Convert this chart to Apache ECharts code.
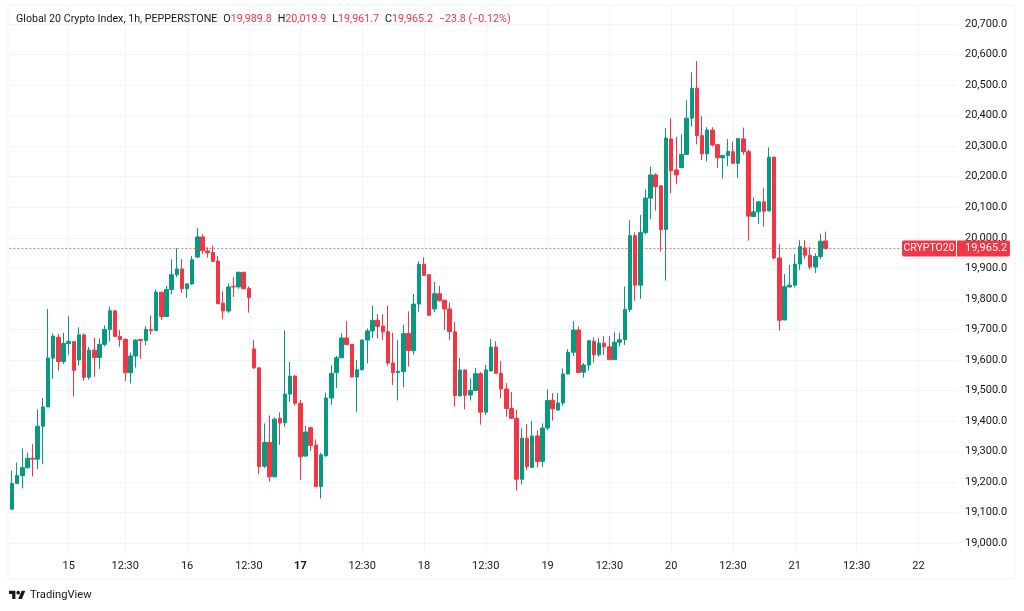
<!DOCTYPE html>
<html>
<head>
<meta charset="utf-8">
<style>html,body{margin:0;padding:0;background:#fff}#chart{width:1024px;height:611px}</style>
<script src="https://cdn.jsdelivr.net/npm/echarts@6/dist/echarts.min.js"></script>
</head>
<body>
<div id="chart"></div>
<script>
const opens = [19111,19195,19221,19247,19278,19275,19383,19446,19606,19674,
19595,19654,19660,19600,19682,19543,19632,19608,19651,19700,
19761,19677,19667,19558,19613,19667,19664,19700,19696,19822,
19742,19831,19879,19898,19833,19849,19937,20003,19957,19952,
19924,19786,19760,19841,19839,19887,19834,19636,19574,19252,
19330,19217,19409,19394,19488,19547,19458,19285,19378,19321,
19185,19286,19475,19558,19607,19672,19651,19544,19568,19665,
19695,19730,19711,19692,19590,19558,19562,19687,19630,19783,
19913,19879,19767,19817,19795,19767,19692,19483,19567,19485,
19500,19555,19429,19564,19642,19556,19505,19441,19409,19209,
19343,19248,19351,19268,19377,19468,19436,19459,19554,19625,
19698,19560,19583,19661,19617,19655,19643,19601,19658,19667,
19765,20007,19845,20017,20130,20206,20170,20027,20324,20222,
20230,20273,20392,20490,20335,20275,20353,20305,20262,20270,
20282,20244,20324,20282,20070,20085,20118,20088,20264,19934,
19731,19839,19845,19914,19967,19943,19904,19939,19989.8];
const closes = [19195,19221,19247,19278,19275,19383,19446,19606,19678,19595,
19654,19661,19566,19682,19543,19632,19608,19651,19700,19761,
19677,19667,19558,19613,19665,19664,19700,19696,19822,19742,
19831,19879,19898,19833,19849,19928,20003,19958,19951,19923,
19784,19760,19839,19839,19887,19833,19804,19574,19250,19330,
19217,19406,19393,19488,19547,19458,19283,19364,19320,19185,
19289,19475,19556,19607,19672,19650,19544,19568,19665,19695,
19730,19710,19692,19590,19558,19563,19686,19631,19783,19913,
19877,19746,19817,19794,19767,19693,19483,19567,19484,19500,
19555,19429,19567,19642,19556,19505,19441,19409,19209,19344,
19250,19351,19267,19377,19467,19440,19459,19554,19625,19698,
19559,19583,19663,19617,19655,19643,19601,19658,19666,19766,
20007,19845,20017,20130,20206,20168,20027,20327,20220,20206,
20273,20392,20490,20335,20275,20353,20304,20262,20270,20283,
20244,20325,20282,20071,20085,20118,20087,20264,19934,19730,
19840,19845,19914,19971,19943,19904,19939,19989,19965.2];
const lows = [19108,19194,19179,19244,19218,19242,19258,19446,19538,19565,
19587,19617,19480,19582,19532,19535,19545,19570,19644,19660,
19676,19643,19531,19523,19575,19604,19648,19683,19695,19731,
19741,19816,19871,19820,19803,19846,19933,19947,19935,19922,
19783,19733,19754,19806,19833,19832,19755,19571,19226,19246,
19201,19216,19322,19381,19463,19450,19207,19283,19302,19184,
19146,19283,19453,19508,19606,19649,19543,19430,19565,19589,
19671,19670,19665,19581,19518,19467,19510,19578,19617,19757,
19875,19745,19756,19791,19698,19665,19447,19479,19438,19467,
19499,19388,19420,19562,19555,19475,19414,19407,19172,19192,
19240,19247,19247,19249,19370,19401,19433,19450,19552,19613,
19558,19542,19565,19591,19611,19616,19600,19600,19643,19649,
19756,19794,19800,20011,20061,20089,19955,19860,20146,20176,
20228,20272,20364,20306,20255,20250,20299,20229,20195,20235,
20242,20196,20272,19991,20069,20045,20036,20087,19929,19696,
19730,19837,19837,19895,19931,19897,19885,19931,19961.7];
const highs = [19237,19264,19310,19296,19325,19438,19475,19767,19687,19685,
19689,19744,19660,19707,19686,19642,19674,19671,19713,19775,
19762,19698,19671,19624,19668,19668,19710,19746,19831,19823,
19842,19930,19966,19930,19849,19940,20032,20012,19969,19975,
19941,19825,19851,19872,19889,19889,19841,19665,19575,19392,
19418,19412,19428,19697,19593,19551,19469,19384,19381,19340,
19296,19493,19582,19613,19687,19727,19652,19600,19668,19703,
19778,19750,19750,19777,19689,19665,19715,19759,19816,19923,
19936,19881,19855,19842,19798,19788,19725,19607,19568,19540,
19574,19560,19584,19669,19661,19596,19524,19495,19436,19376,
19390,19400,19370,19392,19504,19491,19491,19572,19635,19727,
19709,19590,19665,19674,19671,19678,19678,19690,19689,19840,
20057,20018,20075,20159,20234,20211,20173,20360,20391,20331,
20338,20451,20542,20579,20399,20362,20362,20307,20271,20324,
20315,20327,20361,20288,20133,20121,20162,20296,20266,19980,
19881,19911,19947,19992,19992,19970,19949,20012,20019.9];

// x axis: bar slot of each tick, chart has empty slots to the right of the last bar
const slotCount = 184;
const tickSlots = [11,22,34,46,56,68,80,92,104,116,128,140,152,164,176];
const tickLabels = ['15','12:30','16','12:30','17','12:30','18','12:30','19','12:30','20','12:30','21','12:30','22'];
const changeText = '\u221223.8 (\u22120.12%)';

const UP = '#089981';
const DOWN = '#F23645';
const TEXT = '#131722';
const GRID = '#f3f4f7';
const FONT = 'Roboto, sans-serif';
const LEGEND_SIZE = 10.7;

const categories = new Array(slotCount).fill('');
tickSlots.forEach((s, i) => { categories[s] = tickLabels[i]; });

const fmt = (v) => v.toLocaleString('en-US', { minimumFractionDigits: 1, maximumFractionDigits: 1 });
const last = opens.length - 1;
const lastPrice = closes[last];

const isTick = (i) => categories[i] !== '';
const gap = '{g| }';

const chart = echarts.init(document.getElementById('chart'), null, { renderer: 'canvas' });
chart.setOption({
  animation: false,
  backgroundColor: '#fff',
  textStyle: { fontFamily: FONT },
  title: {
    left: 16, top: 14,
    padding: 0,
    text: '{t|Global 20 Crypto Index, 1h, PEPPERSTONE}' + gap + '{t|O}{v|' + fmt(opens[last]) + '}' + gap + '{t|H}{v|' + fmt(highs[last]) + '}' +
      gap + '{t|L}{v|' + fmt(lows[last]) + '}' + gap + '{t|C}{v|' + fmt(closes[last]) + '}' + gap + '{v|' + changeText + '}',
    textStyle: {
      fontFamily: FONT,
      fontWeight: 'normal',
      fontSize: LEGEND_SIZE,
      rich: {
        t: { color: TEXT, fontSize: LEGEND_SIZE, fontWeight: 'normal', fontFamily: FONT },
        v: { color: DOWN, fontSize: LEGEND_SIZE, fontWeight: 'normal', fontFamily: FONT },
        g: { width: 6, fontSize: LEGEND_SIZE }
      }
    }
  },
  grid: [
    { left: 9.4, top: 24.1, width: 947.6, height: 519 },
    { left: 9.4, top: 5, width: 947.6, height: 550 }
  ],
  xAxis: [
    { type: 'category', gridIndex: 0, data: categories, show: false },
    {
      type: 'category', gridIndex: 1, data: categories,
      axisLine: { show: false },
      axisTick: { show: false },
      splitLine: { show: true, alignWithLabel: true, interval: (i) => isTick(i), lineStyle: { color: GRID, width: 1 } },
      axisLabel: {
        interval: (i) => isTick(i),
        margin: 6,
        color: TEXT,
        fontSize: 11,
        fontFamily: FONT,
        formatter: (v) => (v === '17' ? '{b|17}' : v),
        rich: { b: { fontWeight: 'bold', fontSize: 11, color: TEXT, fontFamily: FONT } }
      }
    }
  ],
  yAxis: [
    {
      type: 'value', gridIndex: 0, position: 'right', min: 19000, max: 20700, interval: 100,
      axisLine: { show: false },
      axisTick: { show: false },
      splitLine: { show: true, lineStyle: { color: GRID, width: 1 } },
      axisLabel: { margin: 8, color: TEXT, fontSize: 11, fontFamily: FONT, formatter: (v) => fmt(v) }
    },
    { type: 'value', gridIndex: 1, show: false, min: 0, max: 1 }
  ],
  series: [{
    type: 'candlestick',
    xAxisIndex: 0, yAxisIndex: 0,
    barWidth: 4,
    clip: false,
    data: opens.map((o, i) => [o, closes[i], lows[i], highs[i]]),
    itemStyle: { color: UP, color0: DOWN, borderColor: UP, borderColor0: DOWN, borderWidth: 1 },
    markLine: {
      silent: true,
      symbol: 'none',
      label: { show: false },
      lineStyle: { color: DOWN, type: [2, 2], width: 1, opacity: 0.7 },
      data: [{ yAxis: lastPrice }]
    }
  }]
});

// price tag sits on the last close, logo and frame are page furniture
const tagY = chart.convertToPixel({ yAxisIndex: 0 }, lastPrice);
chart.setOption({
  graphic: [
    { type: 'rect', shape: { x: 8, y: 5, width: 1007, height: 574 }, style: { fill: 'none', stroke: '#f0f3fa', lineWidth: 1 }, z: 1 },
    { type: 'rect', shape: { x: 902, y: tagY - 8, width: 54, height: 16, r: [2, 0, 0, 2] }, style: { fill: DOWN }, z: 100 },
    { type: 'rect', shape: { x: 957, y: tagY - 8, width: 53, height: 16, r: [0, 2, 2, 0] }, style: { fill: DOWN }, z: 100 },
    { type: 'text', x: 929, y: tagY, style: { text: 'CRYPTO20', fill: '#fff', font: '10.5px ' + FONT, textAlign: 'center', textVerticalAlign: 'middle' }, z: 101 },
    { type: 'text', x: 965, y: tagY, style: { text: fmt(lastPrice), fill: '#fff', font: '11px ' + FONT, textAlign: 'left', textVerticalAlign: 'middle' }, z: 101 },
    { type: 'polygon', shape: { points: [[9, 590.8], [15.4, 590.8], [15.4, 599.1], [12.2, 599.1], [12.2, 594.1], [9, 594.1]] }, style: { fill: TEXT }, z: 100 },
    { type: 'polygon', shape: { points: [[21.7, 590.8], [25.3, 590.8], [21.9, 599.1], [18.2, 599.1]] }, style: { fill: TEXT }, z: 100 },
    { type: 'circle', shape: { cx: 18.2, cy: 592.7, r: 1.85 }, style: { fill: TEXT }, z: 100 },
    { type: 'text', x: 30, y: 595, style: { text: 'TradingView', fill: TEXT, font: '11.2px ' + FONT, textAlign: 'left', textVerticalAlign: 'middle' }, z: 100 }
  ]
});
</script>
</body>
</html>
